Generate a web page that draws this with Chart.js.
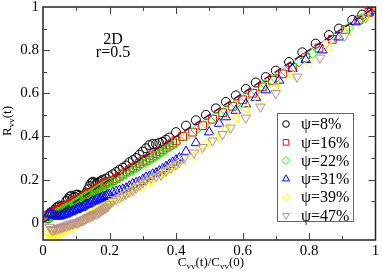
<!DOCTYPE html>
<html>
<head>
<meta charset="utf-8">
<script src="https://cdn.jsdelivr.net/npm/chart.js@4/dist/chart.umd.min.js"></script>
<style>
  html, body { margin: 0; padding: 0; background: #fff; }
  #wrap { width: 382px; height: 275px; }
</style>
</head>
<body>
<div id="wrap"><canvas id="myChart" width="382" height="275"></canvas></div>
<script>
const seriesNames = ["ψ=8%", "ψ=16%", "ψ=22%", "ψ=31%", "ψ=39%", "ψ=47%"];

const xTicks = [0, 0.2, 0.4, 0.6, 0.8, 1];
const xTickLabels = ["0", "0.2", "0.4", "0.6", "0.8", "1"];
const yTicks = [0, 0.2, 0.4, 0.6, 0.8, 1];
const yTickLabels = ["0", "0.2", "0.4", "0.6", "0.8", "1"];
const minorTicks = [0.1, 0.3, 0.5, 0.7, 0.9];

// psi = 8% (circles)
const x8 = [0.015,0.02,0.025,0.03,0.035,0.04,0.045,0.05,0.055,0.06,0.065,0.07,0.075,0.08,0.085,0.09,0.095,0.10,0.105,0.11,0.115,0.12,0.125,0.13,0.135,0.14,0.145,0.15,0.155,0.16,0.165,0.17,0.175,0.18,
  0.19,0.20,0.21,0.22,0.23,0.24,0.25,0.26,0.27,0.28,0.29,0.30,0.31,0.32,0.33,0.34,0.35,0.36,0.37,0.38,
  0.40,0.43,0.46,0.49,0.52,0.55,0.58,0.61,0.64,0.67,0.70,0.74,0.78,0.82,0.86,0.89,0.93,0.96,0.99,1.0];
const y8 = [0.02,0.03,0.045,0.05,0.06,0.07,0.075,0.08,0.075,0.07,0.08,0.10,0.11,0.12,0.125,0.115,0.12,0.13,0.13,0.125,0.12,0.12,0.13,0.14,0.155,0.17,0.185,0.19,0.185,0.18,0.185,0.19,0.195,0.20,
  0.205,0.215,0.225,0.235,0.245,0.255,0.265,0.28,0.29,0.30,0.315,0.33,0.345,0.36,0.365,0.365,0.37,0.375,0.385,0.395,
  0.42,0.45,0.475,0.50,0.53,0.56,0.59,0.62,0.65,0.675,0.705,0.745,0.79,0.83,0.87,0.90,0.94,0.965,0.99,1.0];
// psi = 16% (squares)
const x16 = [0.015,0.02,0.025,0.03,0.035,0.04,0.045,0.05,0.055,0.06,0.065,0.07,0.075,0.08,0.085,0.09,0.095,0.10,0.105,0.11,0.115,0.12,0.125,0.13,0.135,0.14,0.145,0.15,0.155,0.16,0.165,0.17,0.175,0.18,0.185,0.19,0.195,0.20,
  0.21,0.22,0.23,0.24,0.25,0.26,0.27,0.28,0.29,0.30,0.31,0.32,0.33,0.34,0.35,0.36,0.37,0.38,0.39,0.40,
  0.42,0.45,0.48,0.51,0.54,0.57,0.60,0.63,0.66,0.69,0.72,0.75,0.79,0.83,0.87,0.91,0.95,0.98,1.0];
const y16 = [0.035,0.04,0.045,0.05,0.05,0.055,0.06,0.06,0.065,0.07,0.075,0.08,0.08,0.085,0.09,0.095,0.10,0.10,0.105,0.11,0.115,0.12,0.125,0.13,0.135,0.14,0.14,0.145,0.15,0.155,0.16,0.165,0.17,0.175,0.18,0.185,0.19,0.19,
  0.195,0.205,0.215,0.225,0.235,0.245,0.255,0.265,0.275,0.285,0.29,0.30,0.31,0.32,0.33,0.34,0.35,0.36,0.37,0.38,
  0.40,0.42,0.45,0.48,0.51,0.54,0.57,0.60,0.63,0.66,0.69,0.72,0.765,0.81,0.85,0.895,0.94,0.975,1.0];
// psi = 22% (diamonds)
const x22 = [0.015,0.02,0.025,0.03,0.035,0.04,0.045,0.05,0.055,0.06,0.065,0.07,0.075,0.08,0.085,0.09,0.095,0.10,0.105,0.11,0.115,0.12,0.125,0.13,0.135,0.14,0.145,0.15,0.155,0.16,0.165,0.17,0.175,0.18,0.185,0.19,0.195,0.20,
  0.21,0.22,0.23,0.24,0.25,0.26,0.27,0.28,0.29,0.30,0.31,0.32,0.33,0.34,0.35,0.36,0.37,0.38,0.39,0.40,
  0.43,0.46,0.49,0.52,0.55,0.58,0.61,0.64,0.67,0.70,0.73,0.77,0.81,0.85,0.88,0.92,0.96,0.99];
const y22 = [0.02,0.025,0.03,0.035,0.04,0.045,0.05,0.05,0.055,0.06,0.065,0.07,0.07,0.075,0.08,0.085,0.09,0.095,0.10,0.105,0.11,0.115,0.12,0.125,0.125,0.13,0.135,0.14,0.145,0.15,0.155,0.16,0.165,0.17,0.175,0.175,0.18,0.185,
  0.19,0.20,0.21,0.22,0.23,0.24,0.245,0.255,0.265,0.275,0.28,0.29,0.30,0.31,0.32,0.33,0.34,0.35,0.36,0.37,
  0.40,0.43,0.46,0.49,0.52,0.55,0.58,0.61,0.64,0.67,0.70,0.745,0.785,0.83,0.86,0.905,0.95,0.985];
// psi = 31% (triangles up)
const x31 = [0.015,0.02,0.025,0.03,0.035,0.04,0.045,0.05,0.055,0.06,0.065,0.07,0.075,0.08,0.085,0.09,0.095,0.10,0.105,0.11,0.115,0.12,0.125,0.13,0.135,0.14,0.145,0.15,0.155,0.16,0.165,0.17,0.175,0.18,0.185,0.19,0.195,0.20,
  0.21,0.22,0.23,0.24,0.25,0.26,0.27,0.28,0.29,0.30,0.31,0.32,0.33,0.34,0.35,0.36,0.37,0.38,0.39,0.40,0.41,
  0.43,0.46,0.50,0.53,0.55,0.58,0.61,0.64,0.67,0.71,0.75,0.79,0.84,0.89,0.94,0.98];
const y31 = [0.04,0.045,0.04,0.035,0.035,0.03,0.03,0.03,0.035,0.035,0.04,0.04,0.045,0.05,0.05,0.055,0.06,0.06,0.065,0.07,0.07,0.075,0.08,0.085,0.085,0.09,0.095,0.10,0.10,0.105,0.11,0.11,0.115,0.12,0.12,0.125,0.13,0.13,
  0.14,0.145,0.15,0.155,0.16,0.17,0.18,0.185,0.19,0.20,0.21,0.215,0.225,0.23,0.24,0.25,0.26,0.27,0.28,0.29,0.30,
  0.33,0.37,0.42,0.46,0.49,0.52,0.55,0.58,0.615,0.66,0.715,0.755,0.80,0.86,0.93,0.975];
// psi = 39% (triangles left)
const x39 = [0.015,0.02,0.025,0.03,0.035,0.04,0.045,0.05,0.055,0.06,0.065,0.07,0.075,0.08,0.085,0.09,0.095,0.10,0.105,0.11,0.115,0.12,0.125,0.13,0.135,0.14,0.145,0.15,0.155,0.16,0.165,0.17,0.175,0.18,0.185,0.19,0.195,0.20,
  0.21,0.22,0.23,0.24,0.25,0.26,0.27,0.28,0.29,0.30,0.31,0.32,0.33,0.34,0.35,0.36,0.37,0.38,0.39,0.40,
  0.42,0.45,0.47,0.49,0.52,0.55,0.58,0.61,0.65,0.70,0.75,0.80,0.86,0.92,0.97];
const y39 = [-0.045,-0.055,-0.06,-0.055,-0.05,-0.05,-0.045,-0.04,-0.035,-0.035,-0.03,-0.025,-0.02,-0.02,-0.015,-0.01,-0.005,0.0,0.005,0.01,0.015,0.02,0.025,0.03,0.035,0.04,0.045,0.05,0.055,0.06,0.06,0.065,0.07,0.075,0.08,0.08,0.085,0.09,
  0.10,0.11,0.12,0.13,0.14,0.15,0.155,0.165,0.17,0.18,0.19,0.195,0.205,0.215,0.225,0.235,0.24,0.25,0.26,0.27,
  0.29,0.31,0.34,0.37,0.40,0.44,0.485,0.53,0.57,0.63,0.685,0.74,0.815,0.89,0.96];
// psi = 47% (triangles down)
const x47 = [0.02,0.025,0.03,0.035,0.04,0.045,0.05,0.055,0.06,0.065,0.07,0.075,0.08,0.085,0.09,0.095,0.10,0.105,0.11,0.115,0.12,0.125,0.13,0.135,0.14,0.145,0.15,0.155,0.16,0.165,0.17,0.175,0.18,0.185,0.19,0.195,0.20,
  0.21,0.22,0.23,0.24,0.25,0.26,0.27,0.28,0.29,0.30,0.31,
  0.325,0.34,0.355,0.37,0.385,0.40,0.41,0.424,0.454,0.48,0.51,0.54,0.564,0.61,0.654,0.70,0.764,0.833,0.907,0.97,1.0];
const y47 = [-0.02,-0.03,-0.035,-0.03,-0.03,-0.025,-0.025,-0.02,-0.02,-0.015,-0.015,-0.01,-0.01,-0.005,-0.005,0.0,0.0,0.0,0.005,0.01,0.01,0.015,0.02,0.025,0.025,0.03,0.035,0.04,0.04,0.045,0.05,0.055,0.06,0.065,0.07,0.075,0.085,
  0.10,0.108,0.116,0.125,0.133,0.142,0.15,0.162,0.175,0.188,0.198,
  0.208,0.215,0.222,0.24,0.255,0.27,0.28,0.30,0.324,0.35,0.38,0.41,0.44,0.486,0.537,0.60,0.676,0.764,0.866,0.95,1.0];

const diagX = [0, 1];
const diagY = [0, 1];

const colors = ["#000000", "#ff0000", "#00ff00", "#0000ff", "#ffff00", "#bc8f8f"];
const styles = ["circle", "rect", "rectRot", "triangle", "triangle", "triangle"];
const rotations = [0, 0, 0, 0, -90, 180];
const radii = [4.5, 5.5, 5, 5.5, 5.5, 5.5];
const xs = [x8, x16, x22, x31, x39, x47];
const ys = [y8, y16, y22, y31, y39, y47];

const serif = '"Liberation Serif", "DejaVu Serif", serif';

function pts(xa, ya) {
  return xa.map((x, i) => ({ x: x, y: ya[i] }));
}

const datasets = seriesNames.map((name, i) => ({
  label: name,
  data: pts(xs[i], ys[i]),
  showLine: false,
  pointStyle: styles[i],
  pointRotation: rotations[i],
  pointRadius: radii[i],
  pointBorderWidth: 1,
  pointBorderColor: colors[i],
  pointBackgroundColor: "rgba(0,0,0,0)",
  order: 6 - i + 1,
}));

datasets.push({
  label: "diag",
  data: pts(diagX, diagY),
  showLine: true,
  borderColor: "#670748",
  borderWidth: 1.5,
  borderDash: [8, 4],
  pointRadius: 0,
  order: 0,
});

function marker(ctx, style, rot, x, y, r) {
  ctx.beginPath();
  if (style === "circle") {
    ctx.arc(x, y, r, 0, Math.PI * 2);
  } else if (style === "rect") {
    ctx.rect(x - r * 0.7, y - r * 0.7, r * 1.4, r * 1.4);
  } else if (style === "rectRot") {
    ctx.moveTo(x, y - r); ctx.lineTo(x + r, y); ctx.lineTo(x, y + r); ctx.lineTo(x - r, y); ctx.closePath();
  } else {
    const a = rot * Math.PI / 180;
    for (let k = 0; k < 3; k++) {
      const t = a + k * 2 * Math.PI / 3;
      const px = x + Math.sin(t) * r, py = y - Math.cos(t) * r;
      if (k === 0) ctx.moveTo(px, py); else ctx.lineTo(px, py);
    }
    ctx.closePath();
  }
  ctx.stroke();
}

const decor = {
  id: "decor",
  afterDatasetsDraw(chart) {
    const ctx = chart.ctx;
    const a = chart.chartArea;
    const sx = chart.scales.x, sy = chart.scales.y;
    ctx.save();
    ctx.strokeStyle = "#222";
    ctx.lineWidth = 1.5;
    ctx.strokeRect(a.left, a.top, a.right - a.left, a.bottom - a.top);
    ctx.lineWidth = 1;
    ctx.strokeStyle = "#444";
    ctx.beginPath();
    const tick = (vals, len) => {
      vals.forEach(v => {
        const px = Math.round(sx.getPixelForValue(v)) + 0.5;
        ctx.moveTo(px, a.bottom); ctx.lineTo(px, a.bottom - len);
        ctx.moveTo(px, a.top); ctx.lineTo(px, a.top + len);
        const py = Math.round(sy.getPixelForValue(v)) + 0.5;
        ctx.moveTo(a.left, py); ctx.lineTo(a.left + len, py);
        ctx.moveTo(a.right, py); ctx.lineTo(a.right - len, py);
      });
    };
    tick(xTicks.slice(1, -1), 7);
    tick(minorTicks, 4);
    ctx.stroke();
    ctx.restore();
  },
  afterDraw(chart) {
    const ctx = chart.ctx;
    ctx.save();
    // legend box
    const lx = 277, ly = 113, lw = 76, lh = 108;
    ctx.fillStyle = "#fff";
    ctx.fillRect(lx, ly, lw, lh);
    ctx.strokeStyle = "#666";
    ctx.lineWidth = 1;
    ctx.strokeRect(lx + 0.5, ly + 0.5, lw, lh);
    ctx.font = "16px " + serif;
    ctx.textBaseline = "middle";
    seriesNames.forEach((name, i) => {
      const yy = ly + 11 + i * 18.3;
      ctx.strokeStyle = colors[i];
      ctx.lineWidth = 1;
      marker(ctx, styles[i], rotations[i], 286, yy, styles[i] === "circle" ? 3.3 : 4);
      ctx.fillStyle = "#000";
      ctx.textAlign = "left";
      ctx.fillText(name, 301, yy + 1);
    });
    // annotation
    ctx.fillStyle = "#000";
    ctx.textAlign = "center";
    ctx.textBaseline = "alphabetic";
    ctx.font = "16px " + serif;
    ctx.fillText("2D", 113, 44);
    ctx.fillText("r=0.5", 113, 57);
    // x axis title
    const parts = [["C", 13, 0], ["vv", 9, 3], ["(t)/C", 13, 0], ["vv", 9, 3], ["(0)", 13, 0]];
    let w = 0;
    parts.forEach(p => { ctx.font = p[1] + "px " + serif; w += ctx.measureText(p[0]).width; });
    let x = 211 - w / 2;
    ctx.textAlign = "left";
    parts.forEach(p => {
      ctx.font = p[1] + "px " + serif;
      ctx.fillText(p[0], x, 266 + p[2]);
      x += ctx.measureText(p[0]).width;
    });
    // y axis title
    ctx.translate(11, 121);
    ctx.rotate(-Math.PI / 2);
    const yParts = [["R", 13, 0], ["vv", 9, 3], ["(t)", 13, 0]];
    w = 0;
    yParts.forEach(p => { ctx.font = p[1] + "px " + serif; w += ctx.measureText(p[0]).width; });
    x = -w / 2;
    yParts.forEach(p => {
      ctx.font = p[1] + "px " + serif;
      ctx.fillText(p[0], x, p[2]);
      x += ctx.measureText(p[0]).width;
    });
    ctx.restore();
  }
};

const ctx = document.getElementById("myChart");

const myChart = new Chart(ctx, {
  type: "scatter",
  data: { datasets: datasets },
  options: {
    responsive: false,
    animation: false,
    layout: { padding: { top: 7, right: 4, left: 0, bottom: 0 } },
    plugins: { legend: { display: false }, tooltip: { enabled: false } },
    scales: {
      x: {
        type: "linear",
        min: 0,
        max: 1,
        grid: { display: false, drawTicks: false },
        border: { display: false },
        afterBuildTicks: s => { s.ticks = xTicks.map(v => ({ value: v })); },
        afterFit: s => { s.height = 35; s.paddingLeft = 0; s.paddingRight = 0; },
        ticks: {
          padding: 2,
          color: "#000",
          font: { family: serif, size: 15 },
          maxRotation: 0,
          callback: (v, i) => xTickLabels[i],
        },
      },
      y: {
        type: "linear",
        min: -0.08,
        max: 1,
        grid: { display: false, drawTicks: false },
        border: { display: false },
        afterBuildTicks: s => { s.ticks = yTicks.map(v => ({ value: v })); },
        afterFit: s => { s.width = 43; s.paddingTop = 0; s.paddingBottom = 0; },
        ticks: {
          padding: 4,
          color: "#000",
          font: { family: serif, size: 15 },
          callback: (v, i) => yTickLabels[i],
        },
      },
    },
  },
  plugins: [decor],
});
</script>
</body>
</html>
